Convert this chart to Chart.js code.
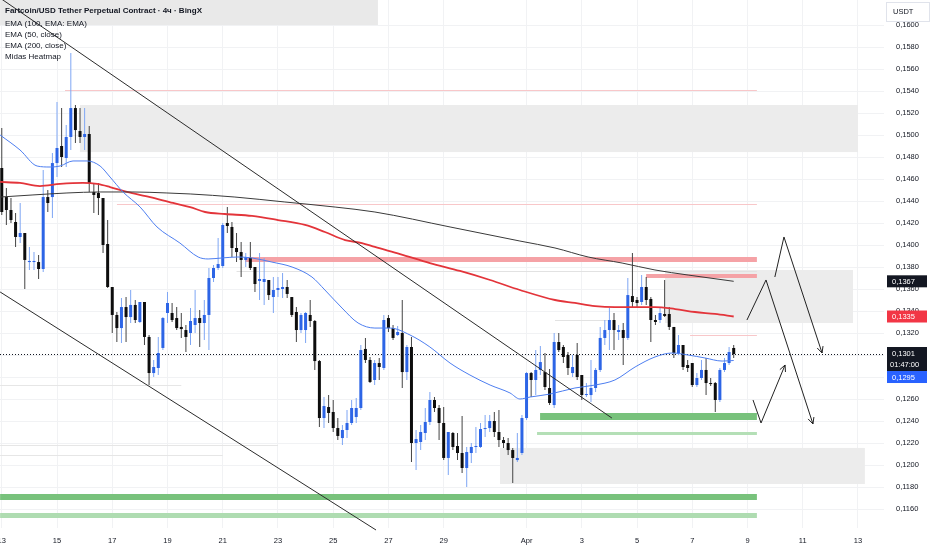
<!DOCTYPE html>
<html>
<head>
<meta charset="utf-8">
<title>Fartcoin/USDT 4h</title>
<script src="https://cdn.jsdelivr.net/npm/chart.js@4.4.1/dist/chart.umd.min.js"></script>
<style>
  html, body { margin: 0; padding: 0; background: #ffffff; }
  #box { position: relative; width: 932px; height: 550px; }
</style>
</head>
<body>
<div id="box"><canvas id="chart1"></canvas></div>
<script>
// 4h candles, the first one opens Mar 13 00:00.
// x axis counts days of March (Apr 1 = 32)
const firstDay = 13;
const candlesPerDay = 6;

const openP = [
  0.14700, 0.14436, 0.14318, 0.14209, 0.14073, 0.14109, 0.13845, 0.13845, 0.13845, 0.13782,
  0.14436, 0.14436, 0.14745, 0.14900, 0.14791, 0.14982, 0.15245, 0.15036, 0.14982, 0.15009,
  0.14482, 0.14473, 0.14427, 0.14009, 0.13618, 0.13364, 0.13245, 0.13436, 0.13345, 0.13455,
  0.13300, 0.13482, 0.13164, 0.12836, 0.12882, 0.13064, 0.13382, 0.13382, 0.13336, 0.13255,
  0.13227, 0.13200, 0.13273, 0.13336, 0.13291, 0.13364, 0.13700, 0.13791, 0.13809, 0.14200,
  0.14164, 0.13973, 0.13936, 0.13864, 0.13882, 0.13800, 0.13673, 0.13664, 0.13682, 0.13527,
  0.13591, 0.13600, 0.13618, 0.13527, 0.13391, 0.13227, 0.13227, 0.13364, 0.13309, 0.12945,
  0.12427, 0.12527, 0.12482, 0.12336, 0.12245, 0.12318, 0.12382, 0.12436, 0.12518, 0.13055,
  0.12955, 0.12773, 0.12927, 0.12882, 0.13336, 0.13245, 0.13182, 0.13200, 0.12845, 0.13073,
  0.12200, 0.12209, 0.12291, 0.12391, 0.12591, 0.12518, 0.12382, 0.12064, 0.12291, 0.12173,
  0.12109, 0.11973, 0.12109, 0.12164, 0.12164, 0.12327, 0.12336, 0.12400, 0.12300, 0.12227,
  0.12200, 0.12136, 0.12045, 0.12109, 0.12427, 0.12836, 0.12773, 0.12864, 0.12845, 0.12700,
  0.12545, 0.13118, 0.13073, 0.13000, 0.12836, 0.13000, 0.12818, 0.12636, 0.12636, 0.12700,
  0.12864, 0.13155, 0.13227, 0.13318, 0.13209, 0.13227, 0.13155, 0.13536, 0.13500, 0.13482,
  0.13618, 0.13509, 0.13318, 0.13318, 0.13373, 0.13373, 0.13255, 0.13018, 0.13091, 0.12909,
  0.12927, 0.12727, 0.12791, 0.12864, 0.12745, 0.12745, 0.12591, 0.12864, 0.12927, 0.13064
];
const highP = [
  0.15064, 0.14518, 0.14427, 0.14291, 0.14382, 0.14109, 0.13982, 0.13936, 0.13909, 0.14682,
  0.14500, 0.14836, 0.15300, 0.15245, 0.15091, 0.15745, 0.15273, 0.15245, 0.15245, 0.15082,
  0.14564, 0.14564, 0.14427, 0.14227, 0.13618, 0.13391, 0.13518, 0.13527, 0.13591, 0.13500,
  0.13482, 0.13482, 0.13182, 0.12955, 0.13164, 0.13345, 0.13573, 0.13473, 0.13436, 0.13382,
  0.13273, 0.13427, 0.13591, 0.13409, 0.13500, 0.13791, 0.13818, 0.14064, 0.14200, 0.14345,
  0.14209, 0.14109, 0.14027, 0.13927, 0.14027, 0.13800, 0.13927, 0.13882, 0.13682, 0.13709,
  0.13709, 0.13745, 0.13682, 0.13527, 0.13436, 0.13382, 0.13391, 0.13500, 0.13318, 0.12955,
  0.12618, 0.12636, 0.12591, 0.12427, 0.12364, 0.12500, 0.12591, 0.12609, 0.13091, 0.13155,
  0.12982, 0.12955, 0.12973, 0.13364, 0.13364, 0.13273, 0.13264, 0.13500, 0.13091, 0.13164,
  0.12318, 0.12364, 0.12518, 0.12664, 0.12618, 0.12545, 0.12527, 0.12300, 0.12300, 0.12291,
  0.12445, 0.12164, 0.12200, 0.12345, 0.12382, 0.12455, 0.12455, 0.12482, 0.12500, 0.12255,
  0.12245, 0.12155, 0.12291, 0.12455, 0.12845, 0.12845, 0.13045, 0.13082, 0.13018, 0.12873,
  0.13200, 0.13200, 0.13091, 0.13027, 0.13000, 0.13109, 0.12818, 0.12745, 0.12955, 0.12882,
  0.13255, 0.13318, 0.13427, 0.13382, 0.13273, 0.13291, 0.13700, 0.13927, 0.13527, 0.13727,
  0.13709, 0.13527, 0.13364, 0.13436, 0.13682, 0.13436, 0.13255, 0.13182, 0.13091, 0.12955,
  0.12927, 0.12836, 0.12955, 0.12973, 0.12791, 0.12755, 0.12882, 0.12973, 0.13073, 0.13091
];
const lowP = [
  0.14273, 0.14182, 0.14200, 0.13982, 0.14018, 0.13600, 0.13773, 0.13773, 0.13691, 0.13755,
  0.14300, 0.14245, 0.14618, 0.14709, 0.14709, 0.14864, 0.14927, 0.14927, 0.14864, 0.14482,
  0.14291, 0.14273, 0.13927, 0.13609, 0.13200, 0.13118, 0.13109, 0.13118, 0.13291, 0.13291,
  0.13291, 0.13091, 0.12727, 0.12800, 0.12818, 0.13045, 0.13291, 0.13300, 0.13227, 0.13155,
  0.13027, 0.13091, 0.13200, 0.13073, 0.13136, 0.13045, 0.13664, 0.13773, 0.13791, 0.14109,
  0.13891, 0.13845, 0.13709, 0.13800, 0.13773, 0.13573, 0.13500, 0.13455, 0.13500, 0.13382,
  0.13527, 0.13518, 0.13518, 0.13345, 0.13118, 0.13200, 0.13109, 0.13255, 0.12864, 0.12345,
  0.12336, 0.12382, 0.12300, 0.12227, 0.12182, 0.12245, 0.12364, 0.12382, 0.12500, 0.12927,
  0.12745, 0.12727, 0.12773, 0.12864, 0.13209, 0.13136, 0.13173, 0.12700, 0.12773, 0.12027,
  0.11955, 0.12136, 0.12227, 0.12364, 0.12482, 0.12227, 0.12045, 0.11909, 0.12136, 0.12045,
  0.11927, 0.11800, 0.12018, 0.12109, 0.12155, 0.12255, 0.12300, 0.12255, 0.12164, 0.12155,
  0.12091, 0.11836, 0.12027, 0.12091, 0.12409, 0.12618, 0.12636, 0.12818, 0.12682, 0.12545,
  0.12518, 0.13027, 0.12927, 0.12818, 0.12800, 0.12773, 0.12591, 0.12618, 0.12573, 0.12664,
  0.12845, 0.13091, 0.13045, 0.13045, 0.13136, 0.12909, 0.13136, 0.13427, 0.13427, 0.13455,
  0.13455, 0.13118, 0.13273, 0.13291, 0.13345, 0.13227, 0.12973, 0.13000, 0.12864, 0.12845,
  0.12709, 0.12709, 0.12773, 0.12636, 0.12718, 0.12482, 0.12573, 0.12845, 0.12909, 0.12973
];
const closeP = [
  0.14300, 0.14318, 0.14227, 0.14073, 0.14109, 0.13864, 0.13855, 0.13855, 0.13782, 0.14436,
  0.14382, 0.14745, 0.14882, 0.14800, 0.14982, 0.15245, 0.15045, 0.14982, 0.15009, 0.14564,
  0.14455, 0.14427, 0.14000, 0.13618, 0.13364, 0.13245, 0.13436, 0.13345, 0.13455, 0.13318,
  0.13482, 0.13164, 0.12836, 0.12891, 0.13018, 0.13336, 0.13473, 0.13318, 0.13245, 0.13236,
  0.13164, 0.13309, 0.13336, 0.13291, 0.13364, 0.13700, 0.13791, 0.13827, 0.14182, 0.14173,
  0.13973, 0.13936, 0.13864, 0.13891, 0.13791, 0.13645, 0.13691, 0.13691, 0.13545, 0.13591,
  0.13609, 0.13618, 0.13555, 0.13364, 0.13227, 0.13364, 0.13382, 0.13309, 0.12945, 0.12427,
  0.12536, 0.12473, 0.12336, 0.12264, 0.12318, 0.12382, 0.12518, 0.12518, 0.13045, 0.12955,
  0.12755, 0.12927, 0.12891, 0.13318, 0.13245, 0.13155, 0.13209, 0.12845, 0.13073, 0.12200,
  0.12236, 0.12300, 0.12391, 0.12591, 0.12518, 0.12382, 0.12064, 0.12300, 0.12164, 0.12109,
  0.11973, 0.12118, 0.12164, 0.12173, 0.12327, 0.12336, 0.12400, 0.12300, 0.12227, 0.12200,
  0.12136, 0.12064, 0.12064, 0.12427, 0.12836, 0.12773, 0.12864, 0.12936, 0.12709, 0.12564,
  0.13118, 0.13045, 0.12982, 0.12882, 0.12891, 0.12800, 0.12636, 0.12645, 0.12700, 0.12864,
  0.13155, 0.13227, 0.13318, 0.13227, 0.13227, 0.13155, 0.13545, 0.13482, 0.13473, 0.13618,
  0.13500, 0.13318, 0.13300, 0.13382, 0.13355, 0.13255, 0.13018, 0.13091, 0.12891, 0.12882,
  0.12727, 0.12791, 0.12864, 0.12745, 0.12736, 0.12591, 0.12864, 0.12927, 0.13027, 0.13009
];

// moving averages, read at a few points along each curve
const ema50Day = [12.94, 13.66, 14.28, 14.75, 15.11, 15.58, 16.09, 16.56, 16.92, 17.39, 18.01, 18.62, 19.45, 20.11, 20.47,
  20.97, 21.55, 22.06, 22.78, 23.51, 24.23, 24.70, 25.32, 25.90, 26.51, 27.06, 27.78, 28.50, 29.23, 29.95,
  30.68, 31.40, 31.76, 32.13, 32.85, 33.75, 34.48, 35.20, 35.93, 36.65, 37.27, 37.85, 38.46, 39.08, 39.50];
const ema50Val = [0.15000, 0.14864, 0.14718, 0.14709, 0.14718, 0.14764, 0.14764, 0.14718, 0.14618, 0.14482, 0.14345, 0.14164, 0.14018, 0.13891, 0.13873,
  0.13882, 0.13891, 0.13882, 0.13845, 0.13800, 0.13709, 0.13591, 0.13427, 0.13291, 0.13245, 0.13245, 0.13182, 0.13073, 0.12927, 0.12818,
  0.12727, 0.12655, 0.12600, 0.12618, 0.12645, 0.12700, 0.12727, 0.12773, 0.12891, 0.12982, 0.13018, 0.13000, 0.12973, 0.12945, 0.12950];

const ema100Day = [12.94, 14.13, 15.36, 16.56, 17.75, 18.98, 19.82, 21.44, 23.25, 25.07, 26.51, 29.23, 31.76, 33.03, 34.23, 35.46, 36.65, 37.85, 39.50];
const ema100Val = [0.14436, 0.14455, 0.14473, 0.14482, 0.14482, 0.14473, 0.14464, 0.14436, 0.14391, 0.14345, 0.14300, 0.14164, 0.14036, 0.13973, 0.13891, 0.13836, 0.13773, 0.13727, 0.13670];

const ema200Day = [12.94, 13.66, 14.38, 15.11, 15.94, 16.45, 16.92, 17.53, 18.37, 19.20, 19.82, 20.36, 21.08, 22.06, 23.00, 23.98, 24.70,
  25.43, 26.04, 26.51, 27.42, 28.50, 29.59, 30.68, 31.76, 33.03, 33.75, 34.48, 35.20, 36.65, 37.38, 38.10, 38.82, 39.50];
const ema200Val = [0.14573, 0.14564, 0.14536, 0.14555, 0.14564, 0.14555, 0.14527, 0.14482, 0.14436, 0.14382, 0.14345, 0.14300, 0.14282, 0.14264, 0.14227, 0.14182, 0.14118,
  0.14045, 0.14018, 0.13982, 0.13918, 0.13836, 0.13764, 0.13682, 0.13591, 0.13500, 0.13473, 0.13445, 0.13436, 0.13436, 0.13418, 0.13391, 0.13373, 0.13350];

// channel lines
const trendDay = [[12.94, 35.09], [12.94, 26.55]];
const trendVal = [[0.16245, 0.12427], [0.13573, 0.11409]];

// projection arrows
const arrowDay = [[39.98, 40.67, 42.37], [40.99, 41.32, 42.70], [40.20, 40.49, 41.36]];
const arrowVal = [[0.13318, 0.13682, 0.12373], [0.13709, 0.14073, 0.13018], [0.12591, 0.12382, 0.12909]];

// heatmap boxes
const zoneStart = [12.94, 15.83, 37.01, 31.04];
const zoneEnd = [26.62, 44.00, 43.82, 44.25];
const zoneHigh = [0.16400, 0.15273, 0.13773, 0.12155];
const zoneLow = [0.16000, 0.14845, 0.13291, 0.11827];

// heatmap levels
const levelStart = [12.94, 12.94, 32.49, 32.38, 21.81, 36.33, 15.29, 17.17, 37.92, 21.50, 12.94, 12.94, 12.94, 33.03];
const levelEnd = [40.34, 40.34, 40.34, 40.34, 40.34, 40.34, 40.34, 40.34, 40.34, 40.34, 19.50, 23.00, 21.00, 34.94];
const levelHigh = [0.11736, 0.11564, 0.12473, 0.12300, 0.13891, 0.13736, 0.15409, 0.14373, 0.13182, 0.13764, 0.12727, 0.12182, 0.12091, 0.13318];
const levelLow = [0.11682, 0.11518, 0.12409, 0.12273, 0.13845, 0.13700, 0.15409, 0.14373, 0.13182, 0.13764, 0.12727, 0.12182, 0.12091, 0.13318];

const priceTicks = [0.116, 0.118, 0.120, 0.122, 0.124, 0.126, 0.128, 0.130, 0.132, 0.134, 0.136, 0.138,
  0.140, 0.142, 0.144, 0.146, 0.148, 0.150, 0.152, 0.154, 0.156, 0.158, 0.160];
const dayTicks = [13, 15, 17, 19, 21, 23, 25, 27, 29, 32, 34, 36, 38, 40, 42, 44];
const dayLabels = ["13", "15", "17", "19", "21", "23", "25", "27", "29", "Apr", "3", "5", "7", "9", "11", "13"];

const headerLines = ["Fartcoin/USD Tether Perpetual Contract · 4ч · BingX", "EMA (100, EMA: EMA)", "EMA (50, close)", "EMA (200, close)", "Midas Heatmap"];
const countdown = "01:47:00";

const zoneColors = ["#e9e9e9", "#ececec", "#ececec", "#ececec"];
const levelColors = ["#78c27c", "#afdcb1", "#78c27c", "#b4dfb6", "#f5a2a6", "#f5a2a6", "#f8c7c9", "#f8c7c9", "#f8c7c9",
  "#e2e2e2", "#e6e6e6", "#e6e6e6", "#e6e6e6", "#e2e2e2"];

Chart.defaults.font.family = '"Liberation Sans", Arial, sans-serif';
Chart.defaults.font.size = 7.5;
Chart.defaults.color = "#131722";

const candleX = openP.map((_, i) => firstDay + i / candlesPerDay);
const upCandle = openP.map((o, i) => closeP[i] >= o);
const last = (arr) => arr[arr.length - 1];
const fmt = (v) => v.toFixed(4).replace(".", ",");

function pts(days, vals) {
  return days.map((d, i) => ({ x: d, y: vals[i] }));
}

const overlay = {
  id: "overlay",
  beforeDatasetsDraw(chart) {
    const { ctx, chartArea: a, scales: { x, y } } = chart;
    ctx.save();
    ctx.beginPath();
    ctx.rect(a.left, a.top, a.right - a.left, a.bottom - a.top);
    ctx.clip();
    zoneStart.forEach((s, i) => {
      const x0 = x.getPixelForValue(s), x1 = x.getPixelForValue(zoneEnd[i]);
      const y0 = y.getPixelForValue(zoneHigh[i]), y1 = y.getPixelForValue(zoneLow[i]);
      ctx.fillStyle = zoneColors[i];
      ctx.fillRect(x0, y0, x1 - x0, y1 - y0);
    });
    levelStart.forEach((s, i) => {
      const x0 = x.getPixelForValue(s), x1 = x.getPixelForValue(levelEnd[i]);
      const y0 = y.getPixelForValue(levelHigh[i]), y1 = y.getPixelForValue(levelLow[i]);
      ctx.fillStyle = levelColors[i];
      ctx.fillRect(x0, Math.round(y0), x1 - x0, Math.max(1, Math.round(y1 - y0)));
    });
    // last price line
    const py = Math.round(y.getPixelForValue(last(closeP))) + 0.5;
    ctx.strokeStyle = "#131722";
    ctx.lineWidth = 1;
    ctx.setLineDash([1, 2]);
    ctx.beginPath();
    ctx.moveTo(a.left, py);
    ctx.lineTo(a.right, py);
    ctx.stroke();
    ctx.restore();
  },
  afterDatasetsDraw(chart) {
    const { ctx, scales: { x, y } } = chart;
    ctx.save();
    ctx.strokeStyle = "#222";
    ctx.lineWidth = 1;
    arrowDay.forEach((days, k) => {
      const n = days.length;
      const x1 = x.getPixelForValue(days[n - 2]), y1 = y.getPixelForValue(arrowVal[k][n - 2]);
      const x2 = x.getPixelForValue(days[n - 1]), y2 = y.getPixelForValue(arrowVal[k][n - 1]);
      const ang = Math.atan2(y2 - y1, x2 - x1);
      ctx.beginPath();
      ctx.moveTo(x2 - 7 * Math.cos(ang - 0.45), y2 - 7 * Math.sin(ang - 0.45));
      ctx.lineTo(x2, y2);
      ctx.lineTo(x2 - 7 * Math.cos(ang + 0.45), y2 - 7 * Math.sin(ang + 0.45));
      ctx.stroke();
    });
    ctx.restore();
  },
  afterDraw(chart) {
    const { ctx, chartArea: a, scales: { y } } = chart;
    ctx.save();
    // header / legend
    ctx.textBaseline = "middle";
    ctx.textAlign = "left";
    ctx.fillStyle = "#131722";
    headerLines.forEach((t, i) => {
      ctx.font = (i === 0 ? "bold " : "") + '8px "Liberation Sans", Arial, sans-serif';
      ctx.fillText(t, 5, i === 0 ? 11 : 13 + i * 11);
    });

    // price scale tags
    const lx = a.right + 3, lw = 40;
    ctx.font = '7.5px "Liberation Sans", Arial, sans-serif';
    function tag(v, bg, top, h) {
      ctx.fillStyle = bg;
      ctx.fillRect(lx, top, lw, h);
      ctx.fillStyle = "#ffffff";
      ctx.fillText(fmt(v), lx + 5, top + 6.5);
    }
    tag(last(ema100Val), "#131722", y.getPixelForValue(last(ema100Val)) - 6, 12);
    tag(last(ema200Val), "#f23645", y.getPixelForValue(last(ema200Val)) - 6, 12);
    const ct = y.getPixelForValue(last(closeP)) - 7;
    tag(last(closeP), "#131722", ct, 24);
    ctx.fillText(countdown, lx + 3, ct + 18);
    tag(last(ema50Val), "#2962ff", ct + 24, 12);

    // currency box
    ctx.fillStyle = "#ffffff";
    ctx.fillRect(a.right + 2, 2, 44, 20);
    ctx.strokeStyle = "#e0e3eb";
    ctx.strokeRect(a.right + 2.5, 2.5, 43, 19);
    ctx.fillStyle = "#131722";
    ctx.fillText("USDT", a.right + 9, 12);
    ctx.restore();
  }
};

new Chart("chart1", {
  type: "bar",
  data: {
    datasets: [
      {
        type: "line",
        label: "Trend 1",
        data: pts(trendDay[0], trendVal[0]),
        borderColor: "#2b2b2b",
        borderWidth: 1,
        pointRadius: 0,
        order: 0,
      },
      {
        type: "line",
        label: "Trend 2",
        data: pts(trendDay[1], trendVal[1]),
        borderColor: "#2b2b2b",
        borderWidth: 1,
        pointRadius: 0,
        clip: false,
        order: 0,
      },
      ...arrowDay.map((days, k) => ({
        type: "line",
        label: "Arrow " + (k + 1),
        data: pts(days, arrowVal[k]),
        borderColor: "#222",
        borderWidth: 1,
        pointRadius: 0,
        clip: false,
        order: 0,
      })),
      {
        type: "line",
        label: "EMA 50",
        data: pts(ema50Day, ema50Val),
        borderColor: "#4d7ef0",
        borderWidth: 1,
        pointRadius: 0,
        cubicInterpolationMode: "monotone",
        order: 1,
      },
      {
        type: "line",
        label: "EMA 100",
        data: pts(ema100Day, ema100Val),
        borderColor: "#3a3a3a",
        borderWidth: 1,
        pointRadius: 0,
        cubicInterpolationMode: "monotone",
        order: 1,
      },
      {
        type: "line",
        label: "EMA 200",
        data: pts(ema200Day, ema200Val),
        borderColor: "#e3343a",
        borderWidth: 1.8,
        pointRadius: 0,
        cubicInterpolationMode: "monotone",
        order: 1,
      },
      {
        label: "Bodies",
        data: candleX.map((d, i) => ({ x: d, y: [openP[i], closeP[i]] })),
        backgroundColor: upCandle.map((u) => (u ? "#2d65e6" : "#0d0d0d")),
        maxBarThickness: 3,
        minBarLength: 1,
        grouped: false,
        order: 2,
      },
      {
        label: "Wicks",
        data: candleX.map((d, i) => ({ x: d, y: [lowP[i], highP[i]] })),
        backgroundColor: upCandle.map((u) => (u ? "#7ea6f4" : "#444444")),
        maxBarThickness: 1,
        grouped: false,
        order: 3,
      },
    ],
  },
  options: {
    responsive: true,
    maintainAspectRatio: false,
    animation: false,
    events: [],
    layout: { padding: 0 },
    plugins: {
      legend: { display: false },
      tooltip: { enabled: false },
    },
    scales: {
      x: {
        type: "linear",
        min: 12.936,
        max: 44.942,
        offset: false,
        afterBuildTicks: (s) => { s.ticks = dayTicks.map((v) => ({ value: v })); },
        afterFit: (s) => { s.height = 22; s.paddingLeft = 0; s.paddingRight = 0; },
        grid: { color: "#f1f2f4", drawTicks: false, offset: false },
        border: { display: false },
        ticks: {
          padding: 8,
          autoSkip: false,
          maxRotation: 0,
          color: "#131722",
          callback: (v) => dayLabels[dayTicks.indexOf(v)] ?? "",
        },
      },
      y: {
        type: "linear",
        position: "right",
        min: 0.114273,
        max: 0.162273,
        afterBuildTicks: (s) => { s.ticks = priceTicks.map((v) => ({ value: v })); },
        afterFit: (s) => { s.width = 48; s.paddingTop = 0; s.paddingBottom = 0; },
        grid: { color: "#f1f2f4", drawTicks: false },
        border: { display: false },
        ticks: {
          padding: 12,
          color: "#131722",
          callback: (v) => fmt(v),
        },
      },
    },
  },
  plugins: [overlay],
});
</script>
</body>
</html>
